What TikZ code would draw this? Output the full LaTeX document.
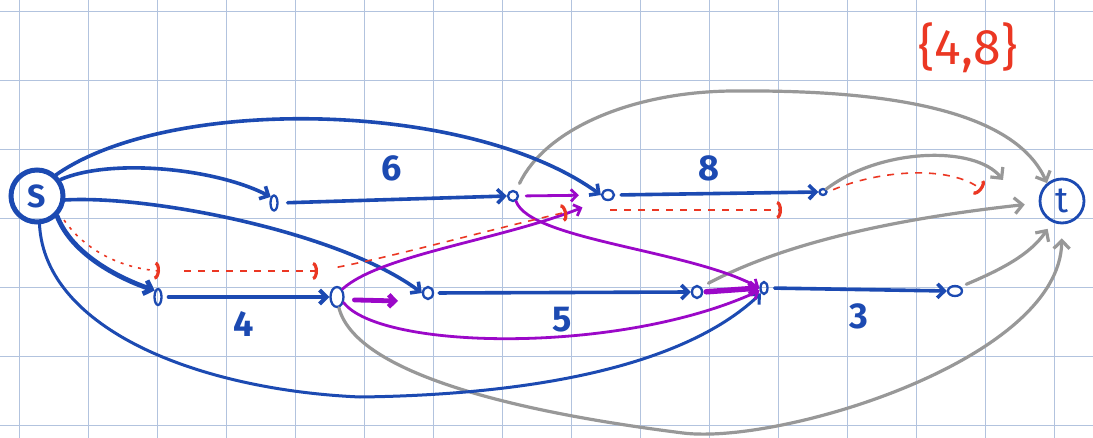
\documentclass[tikz,border=0pt]{standalone}
\usepackage{fontspec}
\setmainfont{Fira Sans}
\usetikzlibrary{arrows.meta,shapes.geometric}
\definecolor{pblue}{RGB}{28,74,178}
\definecolor{ppurple}{RGB}{155,8,200}
\definecolor{pred}{RGB}{235,55,35}
\definecolor{pgray}{RGB}{152,152,152}
\definecolor{pgrid}{RGB}{178,195,222}
\tikzset{
  be/.style={draw=pblue, line width=3.6pt, line cap=round, -{Straight Barb[length=7pt,width=14pt]}},
  pe/.style={draw=ppurple, line width=2.8pt, line cap=round, -{Straight Barb[length=6pt,width=12pt]}},
  ge/.style={draw=pgray, line width=3.2pt, line cap=round, -{Straight Barb[length=8pt,width=16pt]}},
  re/.style={draw=pred, line width=1.6pt, dash pattern=on 7pt off 7pt, -{Arc Barb[length=5pt,width=18pt,line width=3.2pt]}},
  dotn/.style={ellipse, draw=pblue, line width=2.3pt, inner sep=0pt},
  lab/.style={text=pblue, font=\fontsize{36}{38}\selectfont\bfseries},
  gridln/.style={draw=pgrid, line width=1.2pt},
}
\begin{document}
\begin{tikzpicture}[x=1pt,y=-1pt]
\useasboundingbox (0,0) rectangle (1093,438);
\fill[white] (0,0) rectangle (1093,438);
\foreach \gx in {0,...,15} \draw[gridln] ({19.5+69*\gx},0) -- ({19.5+69*\gx},438);
\foreach \gy in {0,...,6} \draw[gridln] (0,{11.5+69*\gy}) -- (1093,{11.5+69*\gy});

% nodes
\node[circle, draw=pblue, line width=5pt, minimum size=52pt, inner sep=0pt, text=pblue, font=\fontsize{32}{32}\selectfont\bfseries] (s) at (37,196) {S};
\node[circle, draw=pblue, line width=2.8pt, minimum size=44pt, inner sep=0pt, text=pblue, font=\fontsize{36}{36}\selectfont] (t) at (1062,201) {t};
\node[dotn, minimum width=7pt, minimum height=15pt] (a) at (274,203) {};
\node[dotn, minimum width=7pt, minimum height=16pt] (b) at (158,297) {};
\node[dotn, minimum width=13pt, minimum height=20pt] (c) at (337,297) {};
\node[dotn, minimum width=10pt, minimum height=10pt] (d) at (513,196) {};
\node[dotn, minimum width=12pt, minimum height=10pt] (e) at (608,195) {};
\node[dotn, minimum width=10pt, minimum height=12pt] (f) at (428,293) {};
\node[dotn, minimum width=7pt, minimum height=6pt] (g) at (823,192) {};
\node[dotn, minimum width=10pt, minimum height=12pt] (h) at (697,292) {};
\node[dotn, minimum width=7pt, minimum height=12pt] (i) at (764,288) {};
\node[dotn, minimum width=14pt, minimum height=10pt] (j) at (955,291) {};

% free-end coordinates
\coordinate (p4) at (398,301);
\coordinate (rb) at (160,271);
\coordinate (rc) at (318,271);
\coordinate (re) at (567,212);
\coordinate (re2) at (610,210);
\coordinate (rg) at (782,210);
\coordinate (rt) at (982,190);
\coordinate (gt2) at (1003,180);

% gray edges
\draw[ge, shorten <=8pt] (d.60) .. controls (545,130) and (630,92) .. (732,91) .. controls (850,90) and (1010,100) .. (t.130);
\draw[ge] (g.north east) .. controls (880,148) and (975,145) .. (gt2);
\draw[ge, shorten <=8pt, shorten >=14pt] (h.north east) .. controls (800,235) and (930,215) .. (t.185);
\draw[ge, shorten <=6pt, shorten >=8pt] (j.north east) .. controls (1000,270) and (1030,255) .. (t.-115);
\draw[ge, shorten >=14pt] (c.-80) .. controls (355,370) and (500,410) .. (683,433) .. controls (780,445) and (1060,360) .. (t.-90);

% blue edges
\draw[be] (s.35) .. controls (110,158) and (215,168) .. (a.north west);
\draw[be, shorten <=9pt] (a.east) -- (d.west);
\draw[be] (s.48) .. controls (170,95) and (470,100) .. (e.west);
\draw[be, shorten <=6pt] (e.east) -- (g.west);
\draw[be] (s.-8) .. controls (150,195) and (340,232) .. (f.west);
\draw[be, line width=4.8pt] (s.-45) .. controls (70,250) and (110,275) .. (b.north west);
\draw[be, line width=4pt, shorten <=6pt] (b.east) -- (c.west);
\draw[be, shorten <=5pt] (f.east) -- (h.west);
\draw[be, shorten <=6pt] (i.east) -- (j.west);
\draw[be, line width=3pt] (s.-85) .. controls (45,330) and (200,390) .. (360,397) .. controls (520,395) and (680,370) .. (i.-120);

% purple edges
\draw[pe, shorten >=22pt] (c.north east) .. controls (380,255) and (500,240) .. (e.south west);
\draw[pe, shorten >=22pt, shorten <=7pt] (d.east) -- (e.west);
\draw[pe] (d.-60) .. controls (530,240) and (690,250) .. (i.west);
\draw[pe, line width=4.8pt, shorten <=10pt] (c.-20) -- (p4);
\draw[pe] (c.-40) .. controls (380,350) and (620,355) .. (i.-150);
\draw[pe, line width=5.5pt, shorten <=3pt] (h.east) -- (i.west);

% red dashed path
\draw[re, dash pattern=on 3pt off 6pt, shorten <=8pt] (s.-38) .. controls (85,250) and (120,268) .. (rb);
\draw[re, shorten <=24pt] (rb) -- (rc);
\draw[re, shorten <=20pt] (rc) .. controls (400,255) and (480,232) .. (re);
\draw[re] (re2) -- (rg);
\draw[re, shorten <=6pt] (g.east) .. controls (880,170) and (950,165) .. (rt);

% labels
\node[lab] (l6) at (392,168) {6};
\node[lab] (l8) at (709,168) {8};
\node[lab] (l4) at (244,324) {4};
\node[lab] (l5) at (562,320) {5};
\node[lab] (l3) at (859,316) {3};
\node[text=pred, font=\fontsize{50}{52}\selectfont] (set) at (968,48) {\{4,8\}};
\end{tikzpicture}
\end{document}
